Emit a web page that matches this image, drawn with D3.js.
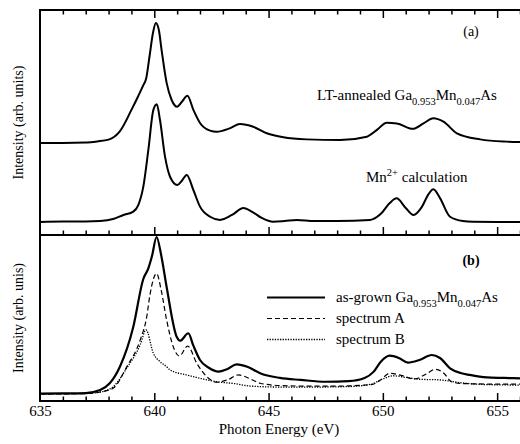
<!DOCTYPE html>
<html>
<head>
<meta charset="utf-8">
<script src="https://cdn.jsdelivr.net/npm/d3@7"></script>
<style>
  html, body { margin: 0; padding: 0; background: #fff; }
</style>
</head>
<body>
<svg id="chart" width="520" height="444"></svg>
<script>
// Photon energy (eV) and intensity (arb. units) for each spectrum.
const annealedEnergy = [635.0, 636.0, 637.0, 637.5, 638.0, 638.5, 639.0, 639.3, 639.5, 639.65, 639.8, 639.95, 640.07, 640.2, 640.32, 640.54, 640.76, 641.0, 641.2, 641.45, 641.71, 642.0, 642.44, 642.73, 643.3, 643.75, 644.33, 644.92, 645.65, 646.67, 648.13, 649.3, 649.74, 650.17, 650.61, 651.31, 651.78, 652.21, 652.65, 653.24, 654.26, 655.4, 656.0];
const annealedIntensity = [40.9, 40.9, 41.1, 41.6, 42.4, 46.2, 55.6, 61.8, 66.2, 69.8, 80.0, 90.2, 94.2, 91.1, 82.2, 67.6, 60.0, 57.0, 59.1, 61.9, 55.6, 49.8, 46.4, 45.9, 47.4, 49.3, 48.1, 45.2, 43.4, 42.5, 42.2, 43.7, 46.7, 49.9, 49.6, 47.2, 49.6, 51.9, 50.4, 45.2, 42.5, 41.5, 41.3];

const calcEnergy = [635.0, 636.0, 637.0, 637.63, 638.2, 638.65, 639.08, 639.3, 639.52, 639.74, 639.96, 640.11, 640.25, 640.47, 640.69, 641.01, 641.2, 641.42, 641.71, 642.0, 642.44, 642.88, 643.4, 643.9, 644.3, 644.7, 645.2, 645.7, 646.23, 647.0, 648.0, 649.44, 649.9, 650.3, 650.6, 651.0, 651.34, 651.7, 652.0, 652.21, 652.5, 652.94, 653.5, 653.95, 655.0, 656.0];
const calcIntensity = [5.8, 6.0, 6.0, 6.2, 7.1, 8.9, 10.4, 13.3, 21.5, 37.8, 55.6, 58.1, 51.1, 34.8, 25.9, 22.2, 24.0, 26.7, 20.0, 12.6, 8.1, 6.7, 8.9, 12.0, 10.2, 7.6, 5.9, 6.2, 6.7, 6.2, 6.2, 6.7, 9.3, 14.2, 16.3, 12.0, 8.9, 12.4, 18.2, 20.3, 16.4, 8.1, 6.2, 5.9, 5.8, 5.8];

const grownEnergy = [635.0, 636.0, 637.0, 637.63, 638.06, 638.5, 639.08, 639.52, 639.74, 639.9, 640.1, 640.3, 640.54, 640.98, 641.13, 641.49, 641.7, 642.0, 642.4, 642.8, 643.2, 643.6, 644.1, 644.63, 645.5, 646.4, 647.5, 648.5, 649.2, 649.6, 649.9, 650.3, 650.7, 651.1, 651.6, 652.14, 652.5, 652.94, 653.4, 653.8, 654.55, 655.3, 656.0];
const grownIntensity = [4.5, 4.6, 4.8, 6.6, 10.8, 20.8, 44.6, 73.5, 79.9, 87.3, 98.8, 88.0, 68.7, 38.7, 36.3, 40.8, 33.7, 24.7, 19.9, 17.7, 19.3, 22.1, 20.5, 16.7, 13.9, 12.7, 11.6, 12.0, 13.9, 17.7, 23.5, 27.3, 25.9, 23.1, 24.7, 27.7, 25.9, 19.7, 16.9, 15.7, 14.2, 13.9, 13.6];

const specAEnergy = [635.0, 637.0, 637.63, 638.2, 638.8, 639.38, 639.67, 639.81, 640.1, 640.3, 640.54, 640.83, 641.1, 641.46, 641.86, 642.3, 642.73, 643.2, 643.68, 644.2, 644.63, 645.5, 646.5, 648.0, 649.5, 649.9, 650.3, 650.8, 651.4, 651.9, 652.3, 652.7, 653.0, 653.5, 655.0, 656.0];
const specAIntensity = [4.2, 4.5, 5.4, 7.7, 20.7, 36.7, 50.8, 63.9, 76.8, 66.9, 48.8, 32.7, 27.1, 33.1, 22.7, 14.6, 11.3, 12.7, 15.7, 13.3, 10.7, 9.3, 9.0, 9.0, 9.9, 12.7, 16.7, 15.4, 13.3, 16.3, 19.1, 16.3, 11.6, 10.5, 10.2, 10.2];

const specBEnergy = [635.0, 637.0, 637.63, 638.2, 638.8, 639.38, 639.64, 639.96, 640.25, 640.54, 640.69, 641.42, 642.0, 642.73, 643.5, 644.2, 645.5, 647.0, 648.5, 649.5, 650.0, 650.46, 651.0, 651.6, 652.5, 653.4, 654.5, 656.0];
const specBIntensity = [4.2, 4.5, 5.4, 8.6, 19.9, 33.7, 42.8, 28.7, 23.7, 20.7, 18.7, 15.7, 13.7, 11.6, 10.5, 9.0, 8.4, 8.4, 8.7, 10.2, 13.3, 15.2, 14.2, 13.1, 12.7, 11.0, 9.9, 9.6];

const xTickLabels = [635, 640, 645, 650, 655];

const SERIF = "'Liberation Serif', Tinos, 'Times New Roman', Times, 'DejaVu Serif', serif";
const zip = (xs, ys) => xs.map((x, i) => ({ x, y: ys[i] }));

const svg = d3.select("#chart");
const left = 40, right = 520, topA = 10, midY = 235, bottomB = 401;

const x = d3.scaleLinear().domain([635, 656]).range([left, right]);
const yA = d3.scaleLinear().domain([0, 100]).range([midY, topA]);
const yB = d3.scaleLinear().domain([0, 100]).range([bottomB, midY]);

const lineA = d3.line().x(d => x(d.x)).y(d => yA(d.y)).curve(d3.curveMonotoneX);
const lineB = d3.line().x(d => x(d.x)).y(d => yB(d.y)).curve(d3.curveMonotoneX);

// Panel (a) spectra
svg.append("path").datum(zip(annealedEnergy, annealedIntensity))
  .attr("d", lineA).attr("fill", "none").attr("stroke", "#000").attr("stroke-width", 2);
svg.append("path").datum(zip(calcEnergy, calcIntensity))
  .attr("d", lineA).attr("fill", "none").attr("stroke", "#000").attr("stroke-width", 2);

// Panel (b) spectra
svg.append("path").datum(zip(specBEnergy, specBIntensity))
  .attr("d", lineB).attr("fill", "none").attr("stroke", "#000").attr("stroke-width", 1.3)
  .attr("stroke-dasharray", "1.3,1.3");
svg.append("path").datum(zip(specAEnergy, specAIntensity))
  .attr("d", lineB).attr("fill", "none").attr("stroke", "#000").attr("stroke-width", 1.2)
  .attr("stroke-dasharray", "5,3");
svg.append("path").datum(zip(grownEnergy, grownIntensity))
  .attr("d", lineB).attr("fill", "none").attr("stroke", "#000").attr("stroke-width", 2.2);

// Inward ticks along each horizontal frame line
const minorTicks = d3.range(636, 657, 1);
function tickRow(yPos, dir) {
  const g = svg.append("g").attr("transform", `translate(0,${yPos})`);
  const axis = (dir > 0 ? d3.axisBottom(x) : d3.axisTop(x))
    .tickValues(minorTicks)
    .tickSize(0)
    .tickFormat("");
  g.call(axis);
  g.select(".domain").remove();
  g.selectAll(".tick line")
    .attr("y2", d => (d % 5 === 0 ? 8 : 4.5) * dir)
    .attr("stroke", "#000").attr("stroke-width", 1.5);
}
tickRow(topA, 1);
tickRow(midY, -1);
tickRow(bottomB, -1);

// Bottom tick labels
const labelAxis = d3.axisBottom(x).tickValues(xTickLabels).tickSize(0).tickPadding(4)
  .tickFormat(d3.format("d"));
const lg = svg.append("g").attr("transform", `translate(0,${bottomB})`).call(labelAxis);
lg.select(".domain").remove();
lg.attr("font-family", SERIF).attr("font-size", 15);
lg.selectAll("text").attr("font-family", SERIF).attr("font-size", 15).attr("fill", "#000");

// Frame
svg.append("rect").attr("x", left).attr("y", topA).attr("width", right - left + 5).attr("height", bottomB - topA)
  .attr("fill", "none").attr("stroke", "#000").attr("stroke-width", 2);
svg.append("line").attr("x1", left).attr("x2", right + 5).attr("y1", midY).attr("y2", midY)
  .attr("stroke", "#000").attr("stroke-width", 2);

function label(xPos, yPos, size, str) {
  return svg.append("text").attr("x", xPos).attr("y", yPos)
    .attr("font-family", SERIF).attr("font-size", size).attr("fill", "#000").text(str);
}

// Axis titles
label(279, 434, 15, "Photon Energy (eV)").attr("text-anchor", "middle");
label(0, 0, 14, "Intensity (arb. units)").attr("text-anchor", "middle")
  .attr("transform", `translate(23,${(topA + midY) / 2}) rotate(-90)`);
label(0, 0, 14, "Intensity (arb. unis)").attr("text-anchor", "middle")
  .attr("transform", `translate(23,${(midY + bottomB) / 2}) rotate(-90)`);

// Panel tags
label(471, 36, 14, "(a)").attr("text-anchor", "middle");
label(471, 265, 14, "(b)").attr("text-anchor", "middle").attr("font-weight", "bold");

// Text with chemical subscripts / superscripts
function formula(xPos, yPos, size, parts) {
  const t = svg.append("text").attr("x", xPos).attr("y", yPos)
    .attr("font-family", SERIF).attr("font-size", size).attr("fill", "#000");
  let shift = 0;
  parts.forEach(p => {
    const target = p.sub ? size * 0.3 : p.sup ? -size * 0.4 : 0;
    t.append("tspan").attr("dy", target - shift)
      .attr("font-size", p.sub || p.sup ? size * 0.7 : size).text(p.t);
    shift = target;
  });
  return t;
}
formula(317, 100, 15, [{ t: "LT-annealed Ga" }, { t: "0.953", sub: true }, { t: "Mn" }, { t: "0.047", sub: true }, { t: "As" }]);
formula(366, 182, 15, [{ t: "Mn" }, { t: "2+", sup: true }, { t: " calculation" }]);

// Legend
const legendRows = [
  { dash: null, w: 2.2, parts: [{ t: "as-grown Ga" }, { t: "0.953", sub: true }, { t: "Mn" }, { t: "0.047", sub: true }, { t: "As" }] },
  { dash: "5,3", w: 1.2, parts: [{ t: "spectrum A" }] },
  { dash: "1.3,1.3", w: 1.3, parts: [{ t: "spectrum B" }] }
];
legendRows.forEach((r, i) => {
  const ly = 297.5 + i * 21;
  svg.append("line").attr("x1", 267).attr("x2", 325).attr("y1", ly).attr("y2", ly)
    .attr("stroke", "#000").attr("stroke-width", r.w).attr("stroke-dasharray", r.dash);
  formula(336, ly + 4.5, 15, r.parts);
});
</script>
</body>
</html>
